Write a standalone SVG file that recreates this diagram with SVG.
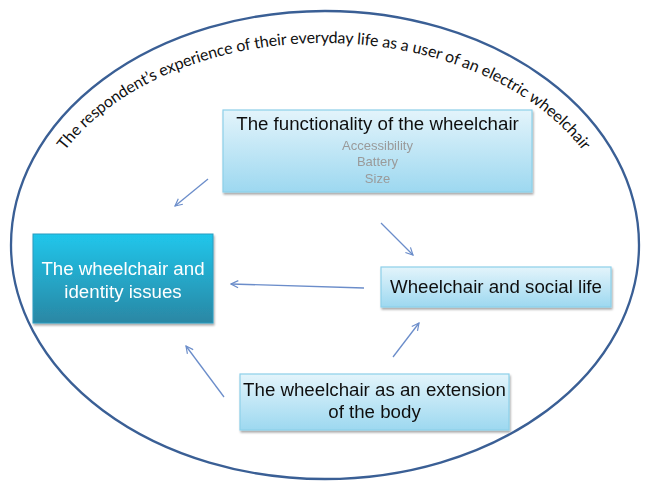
<svg xmlns="http://www.w3.org/2000/svg" xmlns:xlink="http://www.w3.org/1999/xlink" width="645" height="481" viewBox="0 0 645 481">
  <style>
    .light { stroke: #8dd0ea; stroke-width: 1.2; }
    .label { font-family: "Liberation Sans", Arial, sans-serif; font-size: 18.7px; fill: #111; text-anchor: middle; }
    .sub { font-family: "Liberation Sans", Arial, sans-serif; font-size: 13px; fill: #9a9a9a; text-anchor: middle; }
    .white { fill: #ffffff; }
    .conn { stroke: #6b8dca; stroke-width: 1.3; fill: none; marker-end: url(#head); }
    .arch { font-family: Lato, "Open Sans", sans-serif; font-size: 16px; fill: #111; }
  </style>
  <defs>
    <linearGradient id="lightFill" x1="0" y1="0" x2="0" y2="1">
      <stop offset="0" stop-color="#e3f4fb"/>
      <stop offset="1" stop-color="#9dd8f0"/>
    </linearGradient>
    <linearGradient id="darkFill" x1="0" y1="0" x2="0" y2="1">
      <stop offset="0" stop-color="#1fc6eb"/>
      <stop offset="1" stop-color="#2a87a4"/>
    </linearGradient>
    <filter id="shadow" x="-10%" y="-10%" width="125%" height="130%">
      <feGaussianBlur in="SourceAlpha" stdDeviation="1.2"/>
      <feOffset dx="0.5" dy="1.5" result="b"/>
      <feComponentTransfer><feFuncA type="linear" slope="0.35"/></feComponentTransfer>
      <feMerge><feMergeNode/><feMergeNode in="SourceGraphic"/></feMerge>
    </filter>
    <marker id="head" viewBox="0 0 10 10" refX="9" refY="5" markerWidth="9" markerHeight="9" markerUnits="userSpaceOnUse" orient="auto">
      <path d="M1,1 L9,5 L1,9" fill="none" stroke="#6b8dca" stroke-width="1.3"/>
    </marker>
    <path id="arc" d="M31,245 A293,202 0 0 1 617,245"/>
  </defs>

  <!-- enclosing theme -->
  <g id="theme">
    <ellipse cx="325" cy="245" rx="314" ry="234" fill="none" stroke="#3a5f95" stroke-width="2.3"/>
    <text class="arch"><textPath xlink:href="#arc" href="#arc" startOffset="50%" text-anchor="middle" textLength="580" lengthAdjust="spacing">The respondent’s experience of their everyday life as a user of an electric wheelchair</textPath></text>
  </g>

  <!-- connectors -->
  <g id="connectors">
    <line class="conn" x1="208" y1="179" x2="175" y2="206"/>
    <line class="conn" x1="381" y1="223" x2="413" y2="255"/>
    <line class="conn" x1="364" y1="288" x2="231" y2="284"/>
    <line class="conn" x1="393" y1="357" x2="419" y2="323"/>
    <line class="conn" x1="224" y1="397" x2="186" y2="346"/>
  </g>

  <g id="functionality" filter="url(#shadow)">
    <rect class="light" x="223" y="110" width="309" height="82" fill="url(#lightFill)"/>
    <text class="label" x="377.5" y="129.5">The functionality of the wheelchair</text>
    <text class="sub" x="377.5" y="149.5">Accessibility</text>
    <text class="sub" x="377.5" y="166">Battery</text>
    <text class="sub" x="377.5" y="182.5">Size</text>
  </g>

  <g id="identity" filter="url(#shadow)">
    <rect x="33" y="234" width="180" height="89" fill="url(#darkFill)" stroke="#2a9cc0" stroke-width="1"/>
    <text class="label white" x="123" y="275">The wheelchair and</text>
    <text class="label white" x="123" y="298">identity issues</text>
  </g>

  <g id="social" filter="url(#shadow)">
    <rect class="light" x="381" y="267" width="230" height="40" fill="url(#lightFill)"/>
    <text class="label" x="496" y="292.5">Wheelchair and social life</text>
  </g>

  <g id="extension" filter="url(#shadow)">
    <rect class="light" x="240" y="374" width="269" height="56" fill="url(#lightFill)"/>
    <text class="label" x="374.5" y="395.5">The wheelchair as an extension</text>
    <text class="label" x="374.5" y="418">of the body</text>
  </g>
</svg>
